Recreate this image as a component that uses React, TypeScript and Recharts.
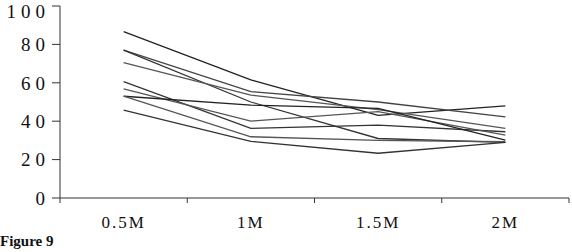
import React from 'react'
import { LineChart, Line, XAxis, YAxis } from 'recharts'

const categories = ['0.5M', '1M', '1.5M', '2M']
const positions = [0.5, 1.5, 2.5, 3.5]
const yTicks = [0, 20, 40, 60, 80, 100]

const s1 = [86.6, 61.5, 43, 48]
const s2 = [77, 55.4, 50, 42.3]
const s3 = [77, 50, 31, 29]
const s4 = [70.5, 53.6, 46, 36.3]
const s5 = [60.6, 36.3, 38, 34.5]
const s6 = [56.8, 40, 45, 32.8]
const s7 = [53, 48.4, 46.7, 30.2]
const s8 = [53, 31.9, 30, 29.3]
const s9 = [45.8, 29.5, 23.3, 29]

const series = [s1, s2, s3, s4, s5, s6, s7, s8, s9]
const colors = ['#222', '#444', '#333', '#555', '#333', '#555', '#222', '#555', '#333']

const data = positions.map((x, i) => {
  const row: { [key: string]: number } = { x }
  series.forEach((s, j) => {
    row['s' + (j + 1)] = s[i]
  })
  return row
})

const font = '"Liberation Serif", "Times New Roman", serif'

function App(): React.ReactElement {
  return (
    <div style={{ position: 'absolute', left: 0, top: 0, width: 572, height: 252, background: '#fff', overflow: 'hidden' }}>
      <LineChart width={572} height={252} data={data} margin={{ top: 6, right: 3, left: 0, bottom: 0 }}>
        <XAxis
          xAxisId="grid"
          dataKey="x"
          type="number"
          domain={[0, 4]}
          ticks={[0, 1, 2, 3, 4]}
          tickFormatter={() => ''}
          height={10}
          tickSize={5}
          stroke="#333"
        />
        <XAxis
          xAxisId="lab"
          dataKey="x"
          type="number"
          domain={[0, 4]}
          ticks={positions}
          tickFormatter={(v: number) => categories[positions.indexOf(v)]}
          axisLine={false}
          tickLine={false}
          height={44}
          tick={{ fontSize: 17, fill: '#111', fontFamily: font, letterSpacing: 2 }}
        />
        <YAxis
          domain={[0, 100]}
          ticks={yTicks}
          width={60}
          tickSize={8}
          tickMargin={2}
          stroke="#333"
          tick={{ fontSize: 19, fill: '#111', fontFamily: font, letterSpacing: 5 }}
        />
        {series.map((_, j) => (
          <Line
            key={j}
            xAxisId="grid"
            dataKey={'s' + (j + 1)}
            type="linear"
            stroke={colors[j]}
            strokeWidth={1.3}
            dot={false}
            isAnimationActive={false}
          />
        ))}
      </LineChart>
      <div style={{ position: 'absolute', left: 0, top: 233, fontFamily: font, fontWeight: 'bold', fontSize: 15, lineHeight: '17px', color: '#111' }}>
        Figure 9
      </div>
    </div>
  )
}

export default App
